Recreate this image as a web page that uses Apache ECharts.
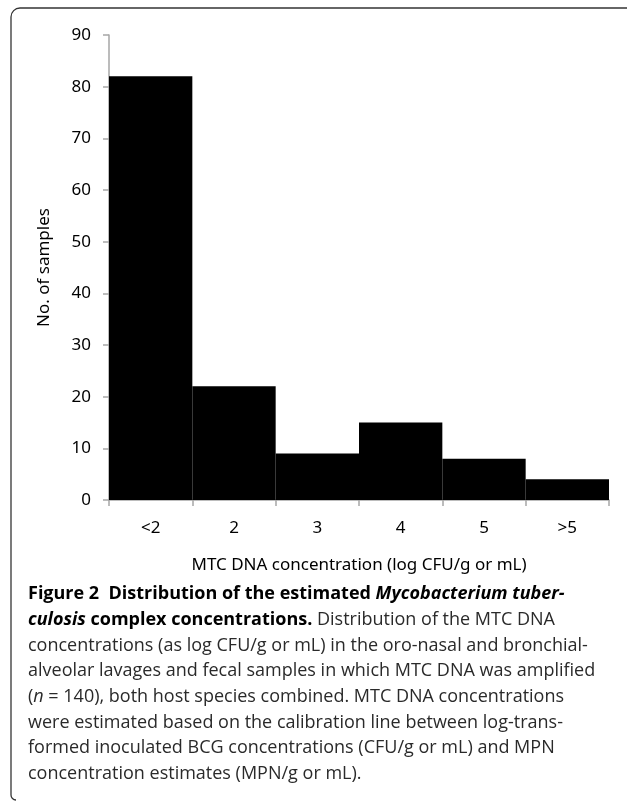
<!DOCTYPE html>
<html>
<head>
<meta charset="utf-8">
<script src="https://cdn.jsdelivr.net/npm/echarts@6/dist/echarts.min.js"></script>
<style>
html,body{margin:0;padding:0;background:#fff;}
#chart{width:627px;height:801px;}
</style>
</head>
<body>
<div id="chart"></div>
<script>
const categories = ['<2', '2', '3', '4', '5', '>5'];
const sampleCounts = [82, 22, 9, 15, 8, 4];
const yTicks = { min: 0, max: 90, interval: 10 };
const xAxisTitle = 'MTC DNA concentration (log CFU/g or mL)';
const yAxisTitle = 'No. of samples';
const captionLines = [
  '{b|Figure 2  Distribution of the estimated }{bi|Mycobacterium tuber-}',
  '{bi|culosis}{b| complex concentrations.}{r| Distribution of the MTC DNA}',
  '{r|concentrations (as log CFU/g or mL) in the oro-nasal and bronchial-}',
  '{r|alveolar lavages and fecal samples in which MTC DNA was amplified}',
  '{r|(}{i|n}{r| = 140), both host species combined. MTC DNA concentrations}',
  '{r|were estimated based on the calibration line between log-trans-}',
  '{r|formed inoculated BCG concentrations (CFU/g or mL) and MPN}',
  '{r|concentration estimates (MPN/g or mL).}'
];

const chart = echarts.init(document.getElementById('chart'), null, {renderer: 'canvas'});
const chartFont = 'Noto Sans';
const capFont = 'Open Sans';
const capSize = 18;
const rich = {
  b: {fontFamily: capFont, fontSize: capSize, fontWeight: 'bold', fill: '#000'},
  bi: {fontFamily: capFont, fontSize: capSize, fontWeight: 'bold', fontStyle: 'italic', fill: '#000'},
  r: {fontFamily: capFont, fontSize: capSize, fill: '#2a2a2a'},
  i: {fontFamily: capFont, fontSize: capSize, fontStyle: 'italic', fill: '#2a2a2a'}
};
const captionGraphics = captionLines.map((t, k) => ({
  type: 'text',
  left: 28,
  top: 585 + k * 25.7,
  style: { text: t, rich: rich, font: capSize + 'px "' + capFont + '"', fill: '#2a2a2a' }
}));

const borderStyle = { stroke: '#333', lineWidth: 1.3, fill: null };

chart.setOption({
  animation: false,
  backgroundColor: '#fff',
  grid: { left: 109, right: 18, top: 35, bottom: 301, containLabel: false },
  xAxis: {
    type: 'category',
    data: categories,
    boundaryGap: true,
    name: xAxisTitle,
    nameLocation: 'middle',
    nameGap: 57,
    nameTextStyle: { fontFamily: chartFont, fontSize: 17, color: '#000' },
    axisLine: { lineStyle: { color: '#a6a6a6', width: 1.5 } },
    axisTick: { show: true, length: 6, lineStyle: { color: '#a6a6a6', width: 1.5 } },
    axisLabel: { margin: 20, fontFamily: chartFont, fontSize: 17, color: '#000' }
  },
  yAxis: {
    type: 'value',
    min: yTicks.min, max: yTicks.max, interval: yTicks.interval,
    name: yAxisTitle,
    nameLocation: 'middle',
    nameGap: 56,
    nameTextStyle: { fontFamily: chartFont, fontSize: 17, color: '#000' },
    axisLine: { show: true, lineStyle: { color: '#a6a6a6', width: 1.5 } },
    axisTick: { show: true, length: 6, lineStyle: { color: '#a6a6a6', width: 1.5 } },
    splitLine: { show: false },
    axisLabel: { margin: 18, fontFamily: chartFont, fontSize: 17, color: '#000' }
  },
  series: [{
    type: 'bar',
    data: sampleCounts,
    barCategoryGap: '0%',
    itemStyle: { color: '#000' }
  }],
  graphic: [
    { type: 'line', shape: { x1: 11, y1: 795, x2: 11, y2: 17 }, style: borderStyle },
    { type: 'arc', shape: { cx: 20, cy: 17, r: 9, startAngle: Math.PI, endAngle: Math.PI * 1.5, clockwise: true }, style: borderStyle },
    { type: 'line', shape: { x1: 20, y1: 8, x2: 627, y2: 8 }, style: borderStyle },
    { type: 'arc', shape: { cx: 16, cy: 795, r: 5, startAngle: Math.PI, endAngle: Math.PI * 0.5, clockwise: false }, style: borderStyle }
  ].concat(captionGraphics)
});
</script>
</body>
</html>
